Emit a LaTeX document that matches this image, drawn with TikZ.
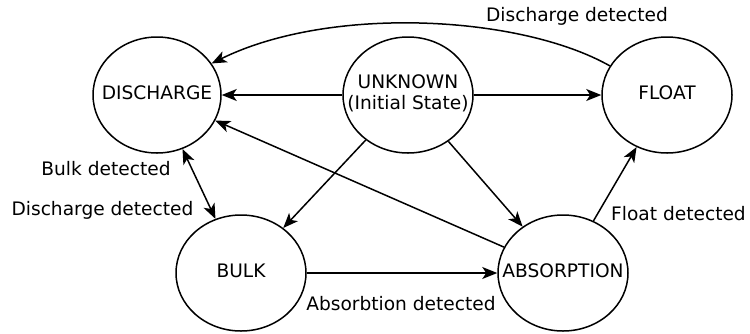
\documentclass[tikz,border=0pt]{standalone}
\usepackage{fontspec}
\setmainfont{DejaVu Sans}
\usetikzlibrary{arrows.meta,shapes.geometric}
\newcommand{\stxt}[1]{\makebox[0pt]{\begin{tabular}{@{}c@{}}#1\end{tabular}}}
\begin{document}
\begin{tikzpicture}[x=1pt,y=-1pt,
  state/.style={draw, line width=1.5pt, ellipse, minimum width=130pt, minimum height=116pt, inner sep=0pt, font=\fontsize{18.6}{20}\selectfont},
  lbl/.style={font=\fontsize{18.6}{21}\selectfont, inner sep=0pt},
  tr/.style={line width=1.5pt, -{Stealth[length=15pt,width=12pt,inset=4pt]}},
  trboth/.style={line width=1.5pt, {Stealth[length=15pt,width=12pt,inset=4pt]}-{Stealth[length=15pt,width=12pt,inset=4pt]}}]
\useasboundingbox[fill=white] (0,0) rectangle (750,333);
\node[state, minimum width=128pt] (discharge) at (157,95) {\stxt{DISCHARGE}};
\node[state] (unknown) at (408,95) {\stxt{UNKNOWN\\(Initial State)}};
\node[state] (float) at (667,95) {\stxt{FLOAT}};
\node[state] (bulk) at (241,273) {\stxt{BULK}};
\node[state] (absorption) at (563,273) {\stxt{ABSORPTION}};
\draw[tr] (unknown) -- (discharge);
\draw[tr] (unknown) -- (float);
\draw[tr] (unknown) -- (bulk);
\draw[tr] (unknown) -- (absorption);
\draw[tr] (absorption) -- (discharge);
\draw[tr] (bulk) -- (absorption);
\draw[tr] (absorption) -- (float);
\draw[trboth] (discharge) -- (bulk);
\draw[tr] (float.153) .. controls (520,15) and (330,5) .. (discharge.30);
\node[lbl] (l1) at (577,16) {Discharge detected};
\node[lbl] (l2) at (106,169) {Bulk detected};
\node[lbl] (l3) at (102.5,210) {Discharge detected};
\node[lbl] (l4) at (401,304) {Absorbtion detected};
\node[lbl] (l5) at (678.5,214) {Float detected};
\end{tikzpicture}
\end{document}
